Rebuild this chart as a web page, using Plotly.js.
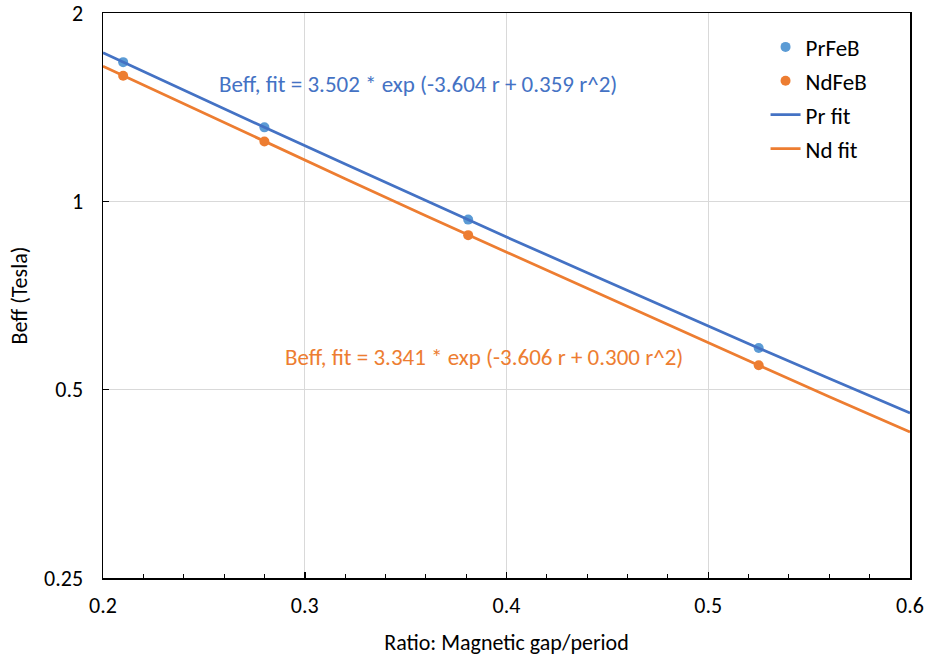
<!DOCTYPE html>
<html>
<head>
<meta charset="utf-8">
<script src="https://cdn.plot.ly/plotly-3.0.1.min.js"></script>
<style>html,body{margin:0;padding:0;background:#fff;}#chart{width:928px;height:658px;}</style>
</head>
<body>
<div id="chart"></div>
<script>
// Measured points
const ratioPts = [0.21, 0.28, 0.381, 0.525];
const prFeB = [1.669, 1.313, 0.935, 0.583];
const ndFeB = [1.588, 1.246, 0.883, 0.547];
// Fit curves
const ratioFit = [0.20, 0.24, 0.28, 0.32, 0.36, 0.40, 0.44, 0.48, 0.52, 0.56, 0.60];
const prFit = [1.728, 1.505, 1.313, 1.147, 1.002, 0.877, 0.769, 0.674, 0.592, 0.521, 0.459];
const ndFit = [1.644, 1.431, 1.246, 1.087, 0.948, 0.829, 0.725, 0.634, 0.556, 0.487, 0.428];
const yTicks = [0.25, 0.5, 1, 2];
const yTickText = ['0.25', '0.5', '1', '2'];
const xTicks = [0.2, 0.3, 0.4, 0.5, 0.6];
const prLabel = 'Beff, fit = 3.502 * exp (-3.604 r + 0.359 r^2)';
const ndLabel = 'Beff, fit = 3.341 * exp (-3.606 r + 0.300 r^2)';

const FONT = 'Carlito, Calibri, "Open Sans", "Liberation Sans", sans-serif';

const traces = [
  {x: ratioPts, y: prFeB, name: 'PrFeB', mode: 'markers', type: 'scatter',
   marker: {color: '#5B9BD5', size: 10}, legendgroup: 'a'},
  {x: ratioPts, y: ndFeB, name: 'NdFeB', mode: 'markers', type: 'scatter',
   marker: {color: '#ED7D31', size: 10}, legendgroup: 'b'},
  {x: ratioFit, y: prFit, name: 'Pr fit', mode: 'lines', type: 'scatter',
   line: {color: '#4472C4', width: 2.75}, legendgroup: 'c'},
  {x: ratioFit, y: ndFit, name: 'Nd fit', mode: 'lines', type: 'scatter',
   line: {color: '#ED7D31', width: 2.75}, legendgroup: 'd'}
];

const layout = {
  width: 928, height: 658,
  margin: {l: 103, r: 18, t: 13, b: 80},
  paper_bgcolor: '#fff', plot_bgcolor: '#fff',
  font: {family: FONT, size: 22, color: '#000'},
  showlegend: true,
  legend: {x: 0.821, y: 0.978, xanchor: 'left', yanchor: 'top',
           font: {size: 23, color: '#000'}, tracegroupgap: 1,
           bgcolor: 'rgba(0,0,0,0)', itemwidth: 30},
  xaxis: {
    range: [0.2, 0.6], tickvals: xTicks, ticktext: xTicks.map(v => v.toFixed(1)),
    ticks: 'inside', ticklen: 6, tickcolor: '#000', tickwidth: 1.5,
    showline: true, linecolor: '#000', linewidth: 1.5, mirror: true,
    showgrid: true, gridcolor: '#d9d9d9', gridwidth: 1, zeroline: false,
    ticklabelstandoff: 7, ticklabeloverflow: 'allow',
    minor: {dtick: 0.02, ticks: 'inside', ticklen: 4, tickcolor: '#000', tickwidth: 1, showgrid: false},
    tickfont: {size: 22},
    title: {text: 'Ratio: Magnetic gap/period', font: {size: 22}, standoff: 16}
  },
  yaxis: {
    type: 'log', range: [Math.log10(0.25) - 1e-6, Math.log10(2) + 1e-6],
    tickvals: yTicks, ticktext: yTickText,
    ticks: 'inside', ticklen: 6, tickcolor: '#000', tickwidth: 1.5,
    showline: true, linecolor: '#000', linewidth: 1.5, mirror: true,
    showgrid: true, gridcolor: '#d9d9d9', gridwidth: 1, zeroline: false,
    ticklabelstandoff: 14, ticklabeloverflow: 'allow',
    tickfont: {size: 22},
    title: {text: 'Beff (Tesla)', font: {size: 22}, standoff: 10}
  },
  annotations: [
    {x: 0.3559, y: Math.log10(1.541), xref: 'x', yref: 'y', text: prLabel, showarrow: false,
     font: {size: 23, color: '#4472C4'}},
    {x: 0.3888, y: Math.log10(0.5638), xref: 'x', yref: 'y', text: ndLabel, showarrow: false,
     font: {size: 23, color: '#ED7D31'}}
  ]
};

Plotly.newPlot('chart', traces, layout, {displayModeBar: false, staticPlot: true});
</script>
</body>
</html>
